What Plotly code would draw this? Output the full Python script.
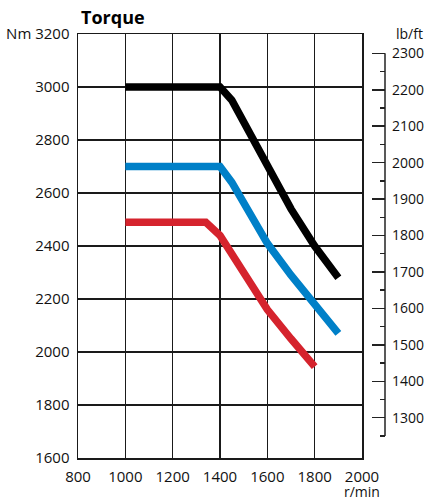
import plotly.graph_objects as go

# --- data ---
rpm_black = [1000, 1400, 1450, 1500, 1600, 1700, 1800, 1900]
nm_black = [3000, 3000, 2950, 2870, 2700, 2540, 2400, 2280]
rpm_blue = [1000, 1400, 1450, 1500, 1600, 1700, 1800, 1900]
nm_blue = [2700, 2700, 2640, 2560, 2410, 2290, 2180, 2070]
rpm_red = [1000, 1340, 1400, 1500, 1600, 1700, 1800]
nm_red = [2490, 2490, 2440, 2295, 2160, 2050, 1945]

x_ticks = [800, 1000, 1200, 1400, 1600, 1800, 2000]
y_ticks = [1600, 1800, 2000, 2200, 2400, 2600, 2800, 3000, 3200]
y_ticktext = ["1600", "1800", "2000", "2200", "2400", "2600", "2800", "3000", "Nm 3200"]
lbft_ticks = [1300, 1400, 1500, 1600, 1700, 1800, 1900, 2000, 2100, 2200, 2300]
lbft_minor = [1250, 1350, 1450, 1550, 1650, 1750, 1850, 1950, 2050, 2150, 2250]

FONT = "Open Sans"
W, H = 426, 501
PL, PR, PT, PB = 78, 392, 34, 458   # plot-area box in px
L, R, T, B = PL, W - PR, PT, H - PB
plot_w = PR - PL
plot_h = PB - PT
x_dom_end = (362 - PL) / plot_w
y2_pos = (385 - PL) / plot_w


def py(y_px):
    return (PB - y_px) / plot_h


def px(x_px):
    return (x_px - PL) / plot_w


fig = go.Figure()
for xs, ys, col in [(rpm_red, nm_red, "#d5232d"),
                    (rpm_blue, nm_blue, "#0080c8"),
                    (rpm_black, nm_black, "#000000")]:
    fig.add_trace(go.Scatter(x=xs, y=ys, mode="lines",
                             line=dict(color=col, width=7.5),
                             showlegend=False, hoverinfo="skip"))

fig.add_trace(go.Scatter(x=[None], y=[None], yaxis="y2", showlegend=False))

fig.update_layout(
    width=W, height=H,
    margin=dict(l=L, r=R, t=T, b=B, pad=0, autoexpand=False),
    paper_bgcolor="white", plot_bgcolor="white",
    font=dict(family=FONT, size=15, color="#111"),
    xaxis=dict(domain=[0, x_dom_end], range=[800, 2000],
               tickmode="array", tickvals=x_ticks, automargin=False,
               showgrid=True, gridcolor="#1a1a1a", gridwidth=1.5,
               showline=True, mirror=True, linecolor="#1a1a1a", linewidth=1.5,
               ticks="outside", ticklen=4, tickcolor="rgba(0,0,0,0)",
               zeroline=False, fixedrange=True),
    yaxis=dict(range=[1600, 3200], tickmode="array", tickvals=y_ticks,
               ticktext=y_ticktext, automargin=False,
               showgrid=True, gridcolor="#1a1a1a", gridwidth=1.5,
               showline=True, mirror=True, linecolor="#1a1a1a", linewidth=1.5,
               ticks="outside", ticklen=4, tickcolor="rgba(0,0,0,0)",
               zeroline=False, fixedrange=True),
    yaxis2=dict(overlaying="y", anchor="free", position=y2_pos, side="right",
                range=[1189.4, 2353], tickmode="array", tickvals=lbft_ticks,
                automargin=False, tickfont=dict(size=14),
                showgrid=False, zeroline=False, showline=False,
                ticks="inside", ticklen=13, tickwidth=1.5, tickcolor="#222",
                minor=dict(tickvals=lbft_minor, ticks="inside", ticklen=5,
                           tickwidth=1.5, tickcolor="#222"),
                ticklabelstandoff=6, fixedrange=True),
    shapes=[dict(type="line", xref="paper", yref="y2",
                 x0=y2_pos, x1=y2_pos, y0=1250, y1=2300,
                 line=dict(color="#222", width=1.5))],
    annotations=[
        dict(text="<b>Torque</b>", xref="paper", yref="paper",
             x=px(79), y=py(17), xanchor="left", yanchor="middle",
             showarrow=False, font=dict(family=FONT, size=18, color="#000")),
        dict(text="lb/ft", xref="paper", yref="paper",
             x=px(409), y=py(33),
             xanchor="center", yanchor="middle", showarrow=False,
             font=dict(family=FONT, size=14, color="#111")),
        dict(text="r/min", xref="x", yref="paper",
             x=2000, y=py(491.5),
             xanchor="center", yanchor="middle", showarrow=False,
             font=dict(family=FONT, size=14, color="#111")),
    ],
)

fig.write_html(
    "out.html",
    config={"displayModeBar": False, "staticPlot": True},
    post_script=("document.body.style.margin='0';"
                 "document.body.style.overflow='hidden';"
                 "document.documentElement.style.overflow='hidden';"),
)
